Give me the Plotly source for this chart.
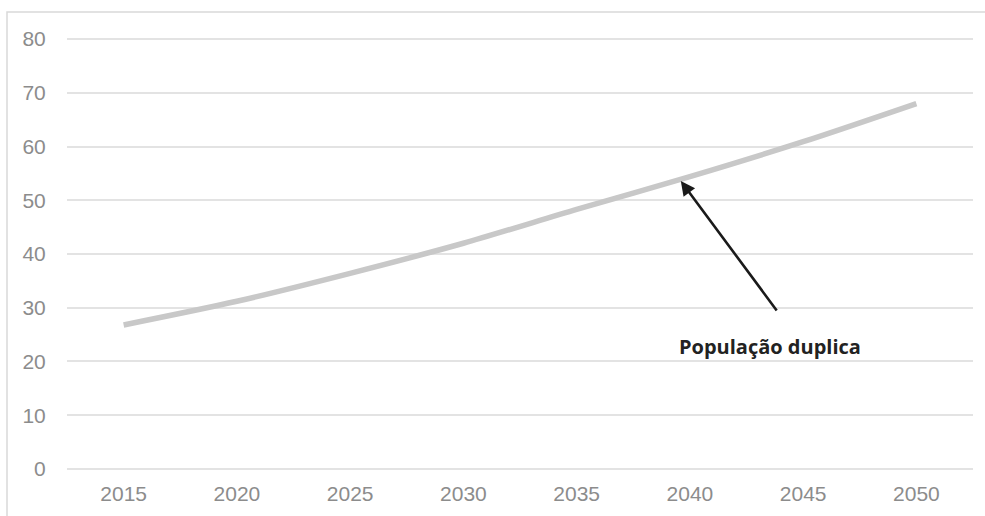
import plotly.graph_objects as go

years = ["2015", "2020", "2025", "2030", "2035", "2040", "2045", "2050"]
population = [26.8, 31.2, 36.4, 42.0, 48.3, 54.4, 60.9, 68.0]
y_ticks = [0, 10, 20, 30, 40, 50, 60, 70, 80]
annotation_text = "População duplica"

fig = go.Figure()
fig.add_trace(go.Scatter(
    x=list(range(len(years))), y=population, mode="lines",
    line=dict(color="#c8c8c8", width=5.5, shape="spline", smoothing=0.8),
    hoverinfo="skip", showlegend=False,
))

W, H = 985, 516
ml, mr, mt, mb = 67, 12, 38, 46

fig.update_layout(
    width=W, height=H,
    margin=dict(l=ml, r=mr, t=mt, b=mb, pad=0, autoexpand=False),
    paper_bgcolor="white", plot_bgcolor="white",
    showlegend=False,
    xaxis=dict(
        range=[-0.5, len(years) - 0.5], automargin=False,
        tickmode="array", tickvals=list(range(len(years))), ticktext=years,
        showgrid=False, zeroline=False, showline=False,
        ticks="outside", ticklen=5, tickcolor="rgba(0,0,0,0)",
        tickfont=dict(family="Liberation Sans, Arial", size=21, color="#8c8c8c"),
        fixedrange=True,
    ),
    yaxis=dict(
        range=[-0.2, 80.2], tickmode="array", tickvals=y_ticks, automargin=False,
        showgrid=True, gridcolor="#e3e3e3", gridwidth=1.6,
        zeroline=False, showline=False,
        ticks="outside", ticklen=16, tickcolor="rgba(0,0,0,0)",
        tickfont=dict(family="Liberation Sans, Arial", size=21, color="#8c8c8c"),
        fixedrange=True,
    ),
)

# chart frame (top and left border visible)
pw = W - ml - mr
ph = H - mt - mb
fig.add_shape(type="rect", xref="paper", yref="paper",
              x0=(7 - ml) / pw, x1=1.2, y0=-0.3, y1=(H - mb - 12) / ph,
              line=dict(color="#d9d9d9", width=1.5), fillcolor="rgba(0,0,0,0)", layer="below")

# arrow
fig.add_annotation(x=4.92, y=53.6, xref="x", yref="y", text="",
                   showarrow=True, ax=97, ay=131, axref="pixel", ayref="pixel",
                   arrowhead=2, arrowsize=1.1, arrowwidth=2.6, arrowcolor="#1a1a1a")
fig.add_annotation(x=5.707, y=22.7, xref="x", yref="y", text="<b>" + annotation_text + "</b>",
                   showarrow=False, font=dict(family="Open Sans", size=20, color="#222222"))

fig.write_html("out.html")
